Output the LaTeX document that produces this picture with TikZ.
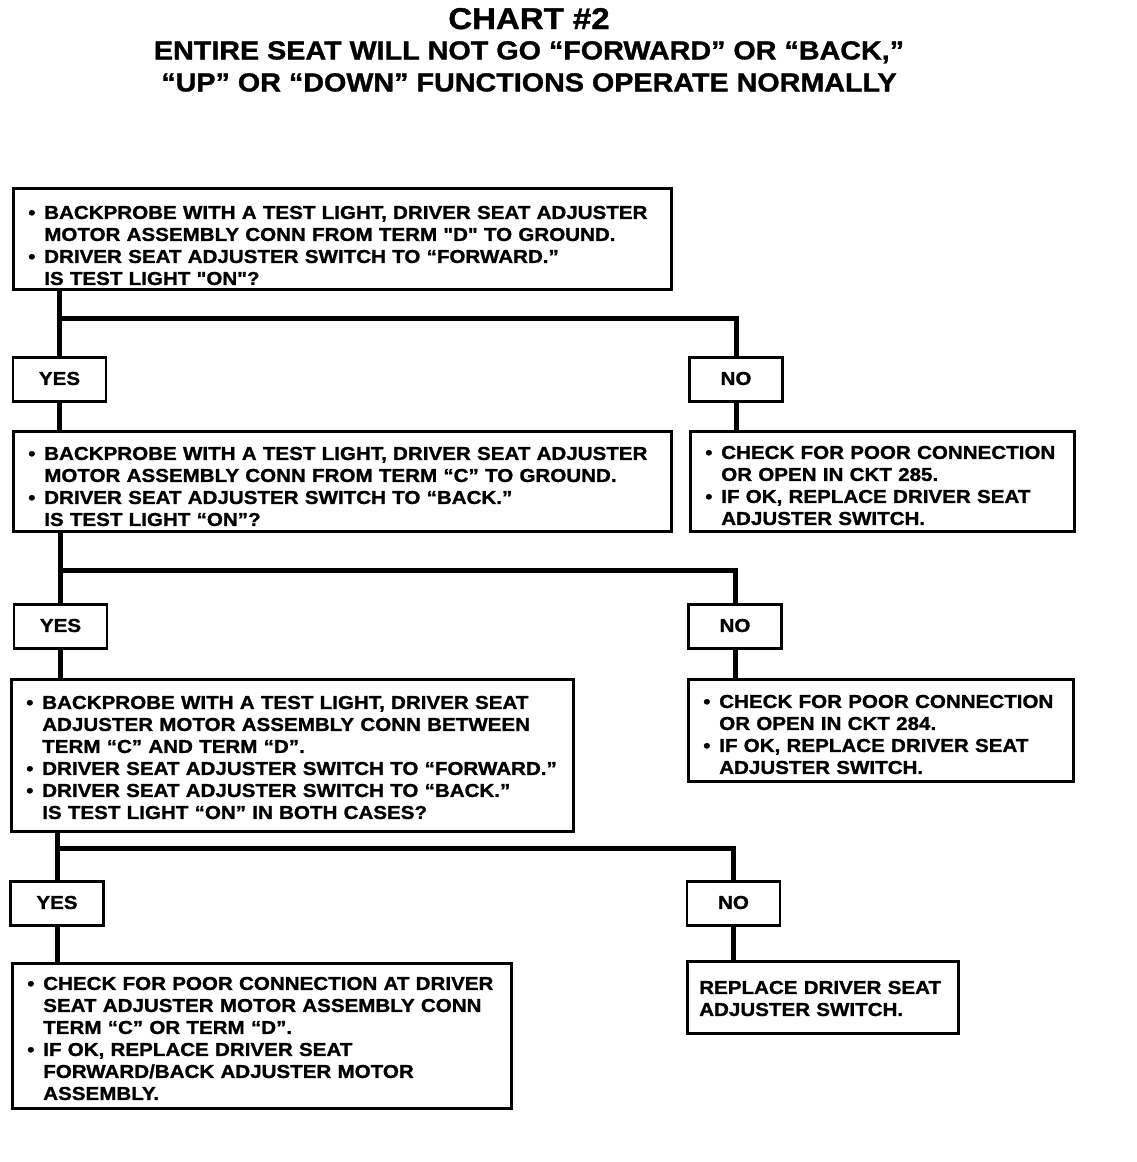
\documentclass[tikz,border=0pt]{standalone}
\usepackage{fontspec}
\newfontfamily\chartfont{Liberation Sans Bold}[FakeStretch=1.1,FakeBold=1.2]
\newcommand{\itm}{\makebox[19pt][l]{\hspace{3pt}\textbullet}}
\newcommand{\cnt}{\hspace*{19pt}}

\begin{document}
\begin{tikzpicture}[x=1pt, y=-1pt, line join=miter,
    box/.style={draw, line width=2.5pt, anchor=north west, inner xsep=12pt, inner ysep=0pt,
      align=left, font=\chartfont\fontsize{18.7}{22}\selectfont},
    ans/.style={draw, line width=2.5pt, anchor=north, inner sep=0pt, minimum width=93pt,
      text height=27.7pt, text depth=16.3pt, font=\chartfont\fontsize{18.7}{22}\selectfont},
    link/.style={line width=5pt},
    head/.style={anchor=base, inner sep=0pt, font=\chartfont\fontsize{26.1}{30}\selectfont}]
  \useasboundingbox (0,0) rectangle (1136,1162);

  \node[head, font=\chartfont\fontsize{30}{30}\selectfont] (title) at (529,29) {CHART \#2};
  \node[head] (sub1) at (529,59.4) {ENTIRE SEAT WILL NOT GO “FORWARD” OR “BACK,”};
  \node[head] (sub2) at (529,91.4) {“UP” OR “DOWN” FUNCTIONS OPERATE NORMALLY};

  \node[box, text width=634pt, text height=30.7pt, text depth=70.3pt] (q1) at (12,187)
    {\itm BACKPROBE WITH A TEST LIGHT, DRIVER SEAT ADJUSTER\\
     \cnt MOTOR ASSEMBLY CONN FROM TERM "D" TO GROUND.\\
     \itm DRIVER SEAT ADJUSTER SWITCH TO “FORWARD.”\\
     \cnt IS TEST LIGHT "ON"?};
  \node[ans] (yes1) at (59.5,356) {YES};
  \node[ans] (no1) at (736,356) {NO};

  \node[box, text width=634pt, text height=28.7pt, text depth=71.3pt] (q2) at (12,430)
    {\itm BACKPROBE WITH A TEST LIGHT, DRIVER SEAT ADJUSTER\\
     \cnt MOTOR ASSEMBLY CONN FROM TERM “C” TO GROUND.\\
     \itm DRIVER SEAT ADJUSTER SWITCH TO “BACK.”\\
     \cnt IS TEST LIGHT “ON”?};
  \node[box, text width=360pt, text height=27.7pt, text depth=72.3pt] (fix1) at (689,430)
    {\itm CHECK FOR POOR CONNECTION\\
     \cnt OR OPEN IN CKT 285.\\
     \itm IF OK, REPLACE DRIVER SEAT\\
     \cnt ADJUSTER SWITCH.};
  \node[ans] (yes2) at (60.5,603) {YES};
  \node[ans] (no2) at (735,603) {NO};

  \node[box, text width=538pt, text height=29.7pt, text depth=122.3pt] (q3) at (10,678)
    {\itm BACKPROBE WITH A TEST LIGHT, DRIVER SEAT\\
     \cnt ADJUSTER MOTOR ASSEMBLY CONN BETWEEN\\
     \cnt TERM “C” AND TERM “D”.\\
     \itm DRIVER SEAT ADJUSTER SWITCH TO “FORWARD.”\\
     \itm DRIVER SEAT ADJUSTER SWITCH TO “BACK.”\\
     \cnt IS TEST LIGHT “ON” IN BOTH CASES?};
  \node[box, text width=361pt, text height=28.7pt, text depth=73.3pt] (fix2) at (687,678)
    {\itm CHECK FOR POOR CONNECTION\\
     \cnt OR OPEN IN CKT 284.\\
     \itm IF OK, REPLACE DRIVER SEAT\\
     \cnt ADJUSTER SWITCH.};
  \node[ans] (yes3) at (57,880) {YES};
  \node[ans] (no3) at (733.5,880) {NO};

  \node[box, text width=475pt, text height=26.7pt, text depth=118.3pt] (fix3) at (11,962)
    {\itm CHECK FOR POOR CONNECTION AT DRIVER\\
     \cnt SEAT ADJUSTER MOTOR ASSEMBLY CONN\\
     \cnt TERM “C” OR TERM “D”.\\
     \itm IF OK, REPLACE DRIVER SEAT\\
     \cnt FORWARD/BACK ADJUSTER MOTOR\\
     \cnt ASSEMBLY.};
  \node[box, text width=247pt, text height=32.7pt, text depth=39.3pt] (fix4) at (686,960)
    {REPLACE DRIVER SEAT\\
     ADJUSTER SWITCH.};

  \coordinate (br1) at (0,318);
  \coordinate (br2) at (0,570);
  \coordinate (br3) at (0,848);

  \draw[link] (q1.south -| yes1.north) -- (yes1.north);
  \draw[link] (yes1.north |- br1) -| (no1.north);
  \draw[link] (yes1.south) -- (yes1.south |- q2.north);
  \draw[link] (no1.south) -- (no1.south |- fix1.north);

  \draw[link] (q2.south -| yes2.north) -- (yes2.north);
  \draw[link] (yes2.north |- br2) -| (no2.north);
  \draw[link] (yes2.south) -- (yes2.south |- q3.north);
  \draw[link] (no2.south) -- (no2.south |- fix2.north);

  \draw[link] (q3.south -| yes3.north) -- (yes3.north);
  \draw[link] (yes3.north |- br3) -| (no3.north);
  \draw[link] (yes3.south) -- (yes3.south |- fix3.north);
  \draw[link] (no3.south) -- (no3.south |- fix4.north);
\end{tikzpicture}
\end{document}
